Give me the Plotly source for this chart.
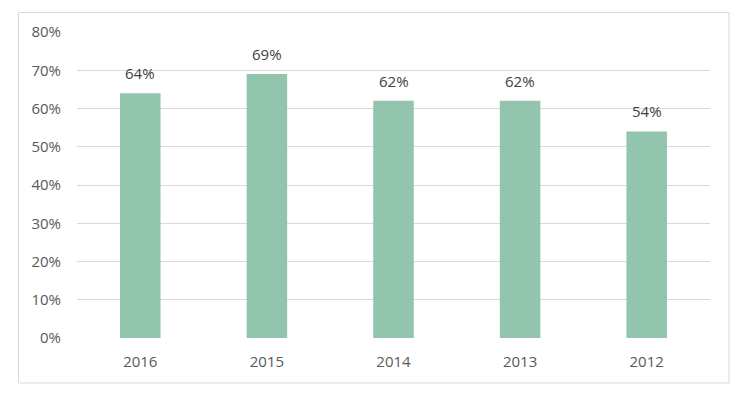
import plotly.graph_objects as go

years = ["2016", "2015", "2014", "2013", "2012"]
values = [0.64, 0.69, 0.62, 0.62, 0.54]
labels = ["64%", "69%", "62%", "62%", "54%"]
tick_vals = [0, 0.1, 0.2, 0.3, 0.4, 0.5, 0.6, 0.7, 0.8]
tick_text = ["0%", "10%", "20%", "30%", "40%", "50%", "60%", "70%", "80%"]

font_family = "'Open Sans', Lato, sans-serif"

fig = go.Figure(go.Bar(
    x=years, y=values,
    marker=dict(color="#93C4AE", line=dict(width=0)),
    width=0.32,
))

for i, (v, lab) in enumerate(zip(values, labels)):
    fig.add_annotation(x=i, y=v, text=lab, showarrow=False,
                       yanchor="bottom", yshift=8,
                       font=dict(color="#404040", size=15, family=font_family))

O = 8  # page body offset
W, H = 748, 394
L = 77 - O
T = 32 - O
R = W - (710 - O)
B = H - (338 - O)
pw, ph = W - L - R, H - T - B

fig.update_layout(
    width=W, height=H,
    margin=dict(l=L, r=R, t=T, b=B, pad=0),
    paper_bgcolor="white", plot_bgcolor="white",
    showlegend=False,
    xaxis=dict(type="category", range=[-0.5, len(years) - 0.5],
               showgrid=False, showline=False, ticks="", zeroline=False,
               ticklabelstandoff=13,
               tickfont=dict(color="#595959", size=15, family=font_family)),
    yaxis=dict(range=[0, 0.8], tickvals=tick_vals, ticktext=tick_text,
               showgrid=True, gridcolor="#D9D9D9", gridwidth=1, zeroline=False,
               showline=False, ticks="", ticklabelstandoff=15,
               tickfont=dict(color="#595959", size=15, family=font_family)),
    shapes=[dict(type="rect", xref="paper", yref="paper",
                 x0=(18.5 - O - L) / pw, x1=(729 - O - L) / pw,
                 y0=((338 - O) - (383 - O)) / ph, y1=((338 - O) - (12.5 - O)) / ph,
                 line=dict(color="#D9D9D9", width=1), fillcolor="rgba(0,0,0,0)",
                 layer="below")],
)

fig.write_html("out.html")
